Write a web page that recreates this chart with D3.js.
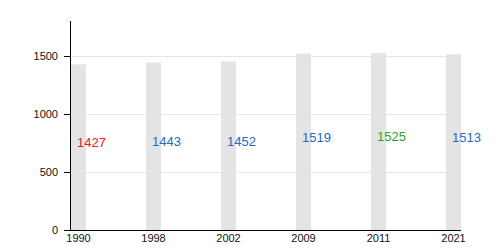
<!DOCTYPE html>
<html lang="en">
<head>
<meta charset="utf-8">
<title>Population bars</title>
<script src="https://cdn.jsdelivr.net/npm/d3@7"></script>
<style>
  body { margin: 0; background: #fff; }
  .axis text { font-family: "Liberation Sans", Arial, sans-serif; font-size: 11px; fill: #111; }
  .axis path, .axis line { stroke: #000; shape-rendering: crispEdges; }
  .grid line { stroke: #e6e6e6; shape-rendering: crispEdges; }
</style>
</head>
<body>
<script>
  var years = ["1990", "1998", "2002", "2009", "2011", "2021"];
  var population = [1427, 1443, 1452, 1519, 1525, 1513];
  var yTicks = [0, 500, 1000, 1500];

  var w = 500, h = 250;
  var padLeft = 70, padTop = 21, baseY = 230, step = 75, barW = 15;

  var svg = d3.select("body").append("svg")
    .attr("width", w)
    .attr("height", h);

  var yScale = d3.scaleLinear()
    .domain([0, 1800])
    .range([baseY, padTop]);

  var xScale = d3.scaleBand()
    .domain(years)
    .range([padLeft, padLeft + step * years.length])
    .paddingInner(0)
    .paddingOuter(0);

  var rightX = padLeft + step * (years.length - 1) + barW + 1;

  // gridlines
  svg.append("g")
    .attr("class", "grid")
    .selectAll("line")
    .data(yTicks.slice(1))
    .enter()
    .append("line")
    .attr("x1", padLeft)
    .attr("x2", rightX)
    .attr("y1", function(d) { return Math.round(yScale(d)) + 0.5; })
    .attr("y2", function(d) { return Math.round(yScale(d)) + 0.5; });

  var minV = d3.min(population), maxV = d3.max(population);

  svg.selectAll("rect.bar")
    .data(population)
    .enter()
    .append("rect")
    .attr("class", "bar")
    .attr("x", function(d, i) { return xScale(years[i]) + 1; })
    .attr("y", function(d) { return yScale(d); })
    .attr("width", barW)
    .attr("height", function(d) { return baseY - yScale(d); })
    .attr("fill", "#e4e4e4");

  svg.selectAll("text.val")
    .data(population)
    .enter()
    .append("text")
    .attr("class", "val")
    .text(function(d) { return d; })
    .attr("x", function(d, i) { return xScale(years[i]) + 7; })
    .attr("y", function(d) { return yScale(d / 2); })
    .attr("font-family", "Liberation Sans, Arial, sans-serif")
    .attr("font-size", "13px")
    .attr("fill", function(d) {
      if (d === minV) return "#e3202a";
      if (d === maxV) return "#2ea31f";
      return "#2468c4";
    });

  var xAxis = d3.axisBottom(xScale).tickSize(0).tickPadding(4);
  var gx = svg.append("g")
    .attr("class", "axis")
    .attr("transform", "translate(0," + baseY + ")")
    .call(xAxis);
  gx.select(".domain").remove();
  gx.selectAll(".tick").attr("transform", function(d) {
    return "translate(" + (xScale(d) + 1 + barW / 2) + ",0)";
  });
  gx.append("line")
    .attr("x1", padLeft - 6)
    .attr("x2", rightX)
    .attr("y1", 0.5)
    .attr("y2", 0.5);

  var yAxis = d3.axisLeft(yScale).tickValues(yTicks).tickFormat(d3.format("d"))
    .tickSize(6).tickPadding(4);
  var gy = svg.append("g")
    .attr("class", "axis")
    .attr("transform", "translate(" + padLeft + ",0)")
    .call(yAxis);
  gy.select(".domain").attr("d", "M0.5," + padTop + "V" + baseY);
  gy.selectAll(".tick text").attr("dx", "-2px");
</script>
</body>
</html>
